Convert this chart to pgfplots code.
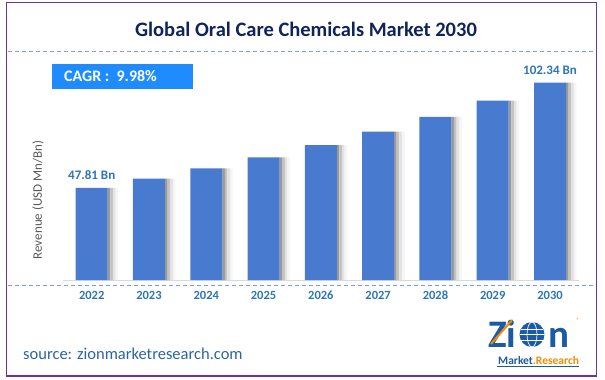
\documentclass[border=0pt]{standalone}
\usepackage{fontspec}
\setmainfont{Carlito}
\usepackage{pgfplots}
\pgfplotsset{compat=1.18}
\usetikzlibrary{arrows.meta}
\definecolor{barblue}{RGB}{72,122,208}
\definecolor{lblblue}{RGB}{46,117,182}
\definecolor{titlenavy}{RGB}{16,36,92}
\definecolor{dashblue}{RGB}{120,160,220}
\definecolor{borderpurple}{RGB}{112,48,160}
\definecolor{cagrblue}{RGB}{30,140,255}
\definecolor{srcblue}{RGB}{46,100,160}
\definecolor{logoblue}{RGB}{27,90,165}
\definecolor{logoorange}{RGB}{240,140,0}
\pgfplotstableread{
x y
0 47.81
1 52.58
2 57.83
3 63.60
4 69.95
5 76.93
6 84.61
7 93.05
8 102.34
}\revenue
\begin{document}
\begin{tikzpicture}
\begin{scope}[x=1pt,y=-1pt]
\path[use as bounding box] (0,0) rectangle (605,380);
\fill[white] (0,0) rectangle (605,380);
\draw[borderpurple, line width=1.6pt] (6.5,2.5) rectangle (596.5,376);
\node[anchor=base, inner sep=0, font=\fontsize{20.5}{24}\selectfont\bfseries, text=titlenavy] at (306,36) {Global Oral Care Chemicals Market 2030};
\draw[dashblue, line width=1pt, dash pattern=on 4pt off 3pt] (8,51) -- (595,51);
\draw[dashblue, line width=1pt, dash pattern=on 4pt off 3pt] (8,285.5) -- (595,285.5);
\fill[cagrblue] (52,64) rectangle (193,89);
\node[anchor=west, inner sep=0, font=\fontsize{16}{18}\selectfont\bfseries, text=white] at (64,76.5) {CAGR :\ \ 9.98\%};
\node[rotate=90, font=\fontsize{13}{15}\selectfont, text=black!65] at (38,200) {Revenue (USD Mn/Bn)};
\node[anchor=base west, inner sep=0, font=\fontsize{16.5}{18}\selectfont, text=srcblue] at (23,359) {source: zionmarketresearch.com};
% logo
\node[anchor=base west, inner sep=0, font=\fontsize{39}{39}\selectfont\bfseries, text=logoblue] at (488,347) {Zi};
\draw[logoorange, line width=2pt, -{Latex[length=4pt]}] (491,344) -- (513,319);
\fill[logoblue] (532,334.5) circle (12.5);
\draw[white, line width=0.7pt] (532,334.5) ellipse (5 and 12.5);
\draw[white, line width=0.7pt] (519.5,334.5) -- (544.5,334.5);
\draw[white, line width=0.7pt] (521,329) -- (543,329);
\draw[white, line width=0.7pt] (521,340) -- (543,340);
\node[anchor=base west, inner sep=0, font=\fontsize{39}{39}\selectfont\bfseries, text=logoblue] at (548,347) {n};
\node[inner sep=0, font=\fontsize{6}{6}\selectfont, text=logoorange] at (578,320) {\textregistered};
\node[anchor=base west, inner sep=0, font=\fontsize{11.5}{12}\selectfont\bfseries] at (498,364) {\textcolor{logoblue}{Market}\textcolor{logoorange}{.Research}};
\draw[logoblue, line width=0.8pt] (497,366.5) -- (579,366.5);
\end{scope}
\begin{axis}[
  at={(63.06pt,-280pt)}, anchor=south west,
  scale only axis, width=515.6pt, height=212.1pt,
  xmin=-0.5, xmax=8.5, ymin=0, ymax=110,
  axis x line=bottom, axis y line=none,
  x axis line style={-, draw=black!15, line width=0.8pt},
  xtick={0,1,2,3,4,5,6,7,8},
  xticklabels={2022,2023,2024,2025,2026,2027,2028,2029,2030},
  major tick length=0pt,
  xticklabel style={anchor=center, yshift=-15pt, font=\fontsize{12.5}{14}\selectfont\bfseries, text=lblblue},
  ytick=\empty,
  clip=false,
  ybar,
]
\addplot[bar width=2.6pt, bar shift=17.3pt, draw=none, fill=black!40] table[x=x,y=y] {\revenue};
\addplot[bar width=2.6pt, bar shift=19.9pt, draw=none, fill=black!24] table[x=x,y=y] {\revenue};
\addplot[bar width=2.6pt, bar shift=22.5pt, draw=none, fill=black!11] table[x=x,y=y] {\revenue};
\addplot[bar width=2.6pt, bar shift=25.1pt, draw=none, fill=black!4] table[x=x,y=y] {\revenue};
\addplot[bar width=32pt, bar shift=0pt, fill=barblue, draw=none,
  point meta=explicit symbolic, nodes near coords={\pgfplotspointmeta},
  every node near coord/.append style={anchor=center, yshift=12.5pt, font=\fontsize{13}{15}\selectfont\bfseries, text=lblblue}]
  coordinates {(0,47.81) [47.81 Bn] (1,52.58) [] (2,57.83) [] (3,63.60) [] (4,69.95) [] (5,76.93) [] (6,84.61) [] (7,93.05) [] (8,102.34) [102.34 Bn]};
\end{axis}
\end{tikzpicture}
\end{document}
